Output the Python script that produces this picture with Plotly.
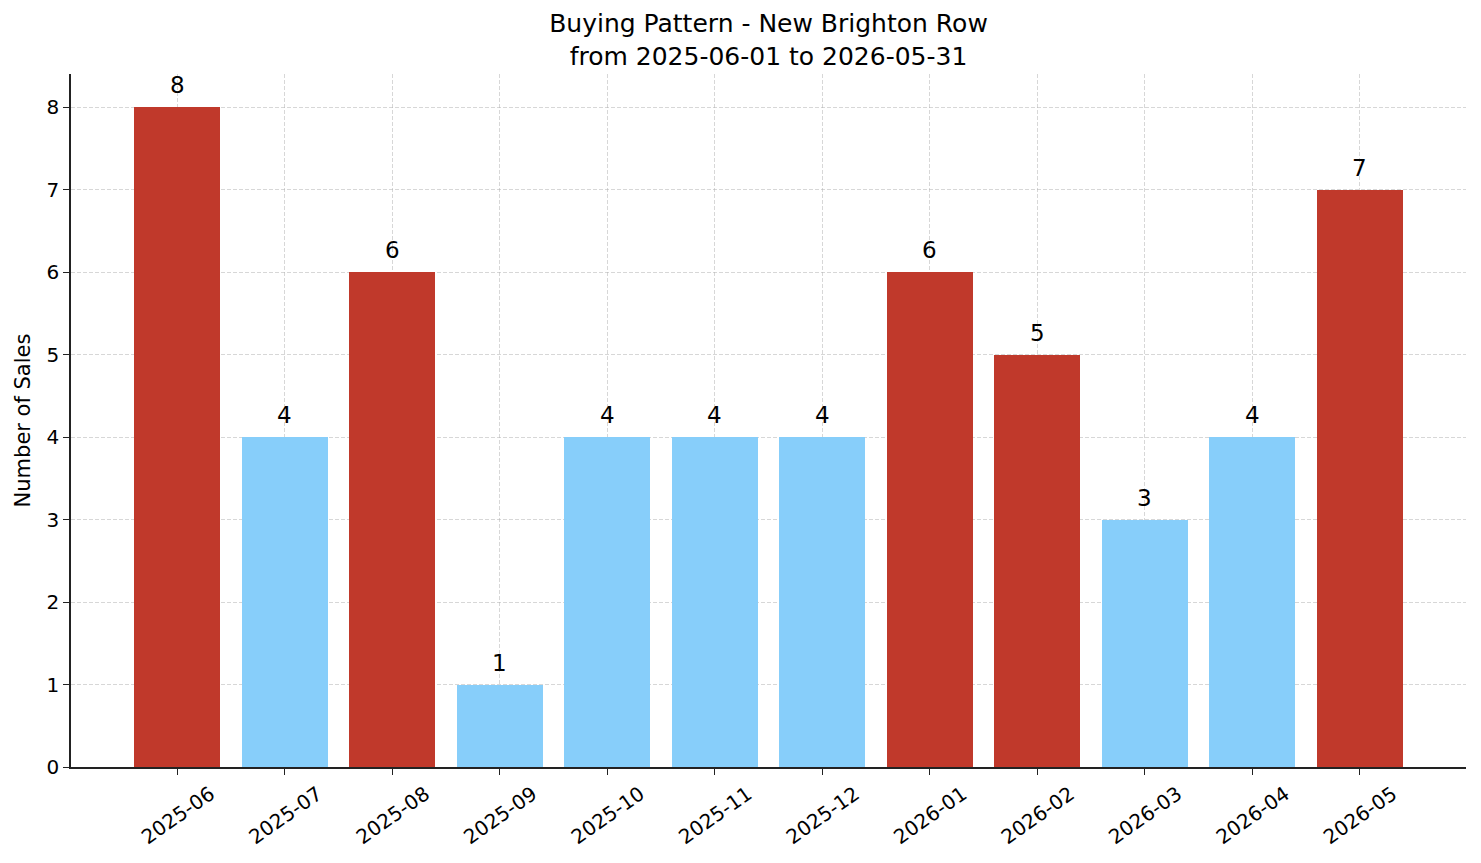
import plotly.graph_objects as go

months = ["2025-06", "2025-07", "2025-08", "2025-09", "2025-10", "2025-11",
          "2025-12", "2026-01", "2026-02", "2026-03", "2026-04", "2026-05"]
sales = [8, 4, 6, 1, 4, 4, 4, 6, 5, 3, 4, 7]
high_color = "#c0392b"
low_color = "#87cefa"
threshold = 5
colors = [high_color if v >= threshold else low_color for v in sales]

x_idx = list(range(len(months)))

fig = go.Figure()
fig.add_trace(go.Bar(
    x=x_idx, y=sales, width=0.8,
    marker=dict(color=colors, line=dict(width=0)),
))

for xi, v in zip(x_idx, sales):
    fig.add_annotation(x=xi, y=v, xref="x", yref="y", text=str(v), showarrow=False,
                       yanchor="bottom", yshift=7,
                       font=dict(family="DejaVu Sans", size=23, color="black"))

fig.update_layout(
    width=1481, height=863,
    paper_bgcolor="white", plot_bgcolor="white",
    margin=dict(l=71, r=15, t=74, b=96, autoexpand=False),
    font=dict(family="DejaVu Sans", color="black"),
    title=dict(text="Buying Pattern - New Brighton Row<br>from 2025-06-01 to 2026-05-31",
               x=0.5, xanchor="center", xref="paper",
               y=1, yref="paper", yanchor="bottom", pad=dict(b=42),
               font=dict(size=25, family="DejaVu Sans", color="black")),
    showlegend=False,
    bargap=0,
)
grid = dict(showgrid=True, gridcolor="rgba(176,176,176,0.5)", griddash="4px,2px", gridwidth=0.8)
fig.update_xaxes(
    range=[-0.99, 11.99], automargin=False,
    tickmode="array", tickvals=x_idx, ticktext=months,
    tickangle=-35, ticklabelshift=33, ticklabelstandoff=0,
    tickfont=dict(size=20, family="DejaVu Sans", color="black"),
    ticks="outside", ticklen=6, tickwidth=1.2, tickcolor="#222",
    showline=True, linecolor="#222", linewidth=1.5,
    zeroline=False, **grid,
)
fig.update_yaxes(
    range=[0, 8.4], automargin=False,
    tickmode="array", tickvals=list(range(9)),
    tickfont=dict(size=20, family="DejaVu Sans", color="black"),
    ticks="outside", ticklen=6, tickwidth=1.2, tickcolor="#222",
    showline=True, linecolor="#222", linewidth=1.5,
    zeroline=False, **grid,
    title=dict(text="Number of Sales", font=dict(size=21, family="DejaVu Sans", color="black"),
               standoff=10),
)

fig.write_html("out.html")
